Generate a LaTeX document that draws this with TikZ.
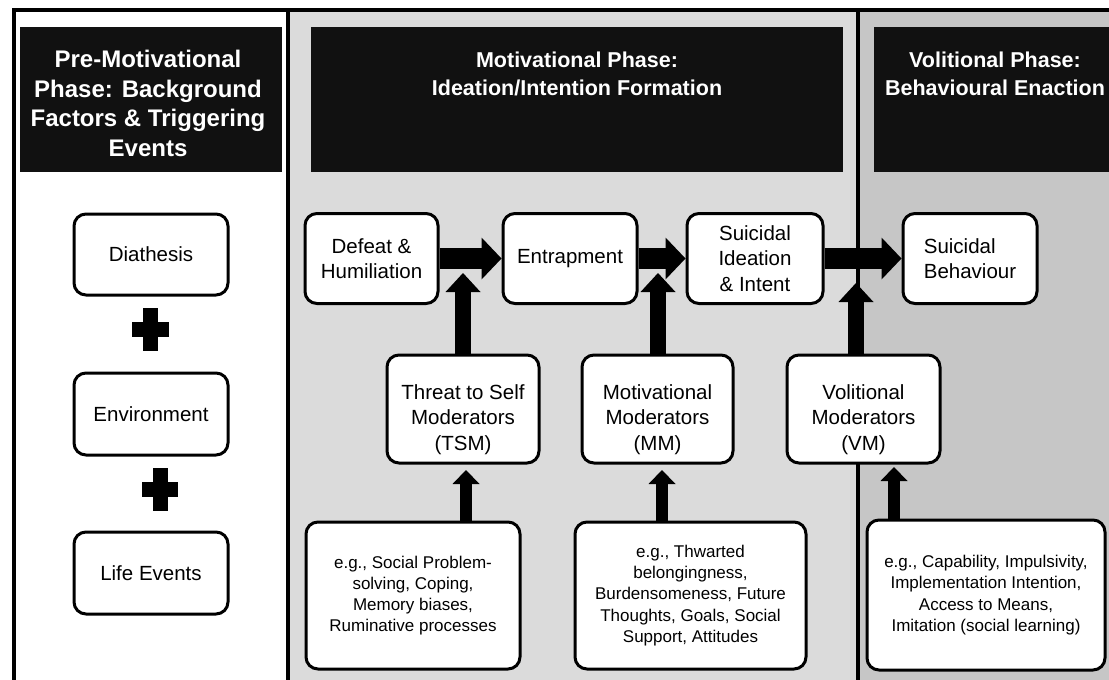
\documentclass[tikz,border=0pt]{standalone}
\usepackage{fontspec}
\setmainfont{Liberation Sans}
\usetikzlibrary{arrows.meta}
\definecolor{panelB}{RGB}{219,219,219}
\definecolor{panelC}{RGB}{198,198,198}
\definecolor{hdr}{RGB}{17,17,17}
\newcommand{\topup}{\rule{0pt}{36pt}}
\begin{document}
\begin{tikzpicture}[x=1pt,y=-1pt,
  box/.style={draw=black, line width=3pt, rounded corners=12pt, fill=white, inner sep=0pt, align=center, font=\fontsize{20.5}{25.5}\selectfont},
  egbox/.style={box, font=\fontsize{17}{21.2}\selectfont},
  hdrbox/.style={fill=hdr, inner sep=0pt},
  hdrtext/.style={text=white, inner sep=0pt, anchor=north, align=center},
  fat/.style={line width=21pt, -{Triangle[length=20pt,width=42pt,line width=0pt]}},
  upbig/.style={line width=16pt, -{Triangle[length=19pt,width=35pt,line width=0pt]}},
  upsmall/.style={line width=12pt, -{Triangle[length=14pt,width=27pt,line width=0pt]}},
  border/.style={line width=4pt},
  divider/.style={line width=3.5pt}
]
\useasboundingbox (0,0) rectangle (1109,680);
% panels
\fill[white] (0,0) rectangle (1109,680);
\fill[panelB] (288,10) rectangle (858,680);
\fill[panelC] (858,10) rectangle (1109,680);
% header boxes
\node[hdrbox, minimum width=262pt, minimum height=145pt] (h1) at (151,99.5) {};
\node[hdrbox, minimum width=532pt, minimum height=145pt] (h2) at (577,99.5) {};
\node[hdrbox, minimum width=235pt, minimum height=145pt] (h3) at (991.5,99.5) {};
\node[hdrtext, font=\bfseries\fontsize{24}{29.5}\selectfont] (h1t) at (148,50) {Pre-Motivational\\Phase: Background\\Factors \& Triggering\\Events};
\node[hdrtext, font=\bfseries\fontsize{21.5}{28.4}\selectfont] (h2t) at (577,51.5) {Motivational Phase:\\Ideation/Intention Formation};
\node[hdrtext, font=\bfseries\fontsize{21.5}{28.4}\selectfont] (h3t) at (995,51.5) {Volitional Phase:\\Behavioural Enaction};
% frame lines
\draw[border] (12,10) -- (1109,10);
\draw[border] (14,8) -- (14,680);
\draw[divider] (288,10) -- (288,680);
\draw[divider] (858,10) -- (858,680);
% pre-motivational column
\node[box, minimum width=154pt, minimum height=81pt] (diath) at (151,254.5) {Diathesis};
\node[box, minimum width=154pt, minimum height=82pt] (env) at (151,414) {Environment};
\node[box, minimum width=154pt, minimum height=82pt] (life) at (151,573) {Life Events};
\fill (143,308) rectangle (158,351);
\fill (132,322) rectangle (169,337);
\fill (152.5,468) rectangle (167.5,511);
\fill (142,482) rectangle (178,497);
% main row
\node[box, minimum width=133pt, minimum height=90pt] (defeat) at (371.5,258.5) {Defeat \&\\Humiliation};
\node[box, minimum width=134pt, minimum height=90pt] (entr) at (570,258.5) {Entrapment};
\node[box, minimum width=136pt, minimum height=90pt] (sii) at (755,258.5) {Suicidal\\Ideation\\\& Intent};
\node[box, minimum width=134pt, minimum height=90pt, align=left] (sb) at (970,258.5) {Suicidal\\Behaviour};
% moderators
\node[box, minimum width=152pt, minimum height=108pt] (tsm) at (463,409) {\topup Threat to Self\\Moderators\\(TSM)};
\node[box, minimum width=151pt, minimum height=108pt] (mm) at (657.5,409) {\topup Motivational\\Moderators\\(MM)};
\node[box, minimum width=153pt, minimum height=108pt] (vm) at (863.5,409) {\topup Volitional\\Moderators\\(VM)};
% examples
\node[egbox, minimum width=214pt, minimum height=147pt] (tsmeg) at (413,595.5) {e.g., Social Problem-\\solving, Coping,\\Memory biases,\\Ruminative processes};
\node[egbox, minimum width=231pt, minimum height=147pt] (mmeg) at (690.5,595.5) {e.g., Thwarted\\belongingness,\\Burdensomeness, Future\\Thoughts, Goals, Social\\Support, Attitudes};
\node[egbox, minimum width=238pt, minimum height=150pt] (vmeg) at (986,595) {e.g., Capability, Impulsivity,\\Implementation Intention,\\Access to Means,\\Imitation (social learning)};
% arrows
\draw[fat] (defeat) -- (entr);
\draw[fat] (entr) -- (sii);
\draw[fat] (sii) -- (sb);
\coordinate (tsmtip) at (463,273);
\coordinate (mmtip) at (658,273);
\coordinate (vmtip) at (856,283);
\draw[upbig] (tsm.north -| tsmtip) -- (tsmtip);
\draw[upbig] (mm.north -| mmtip) -- (mmtip);
\draw[upbig] (vm.north -| vmtip) -- (vmtip);
\coordinate (tsmlow) at (466,470);
\coordinate (mmlow) at (662,470);
\coordinate (vmlow) at (894,467);
\draw[upsmall] (tsmeg.north -| tsmlow) -- (tsmlow);
\draw[upsmall] (mmeg.north -| mmlow) -- (mmlow);
\draw[upsmall] (vmeg.north -| vmlow) -- (vmlow);
\end{tikzpicture}
\end{document}
